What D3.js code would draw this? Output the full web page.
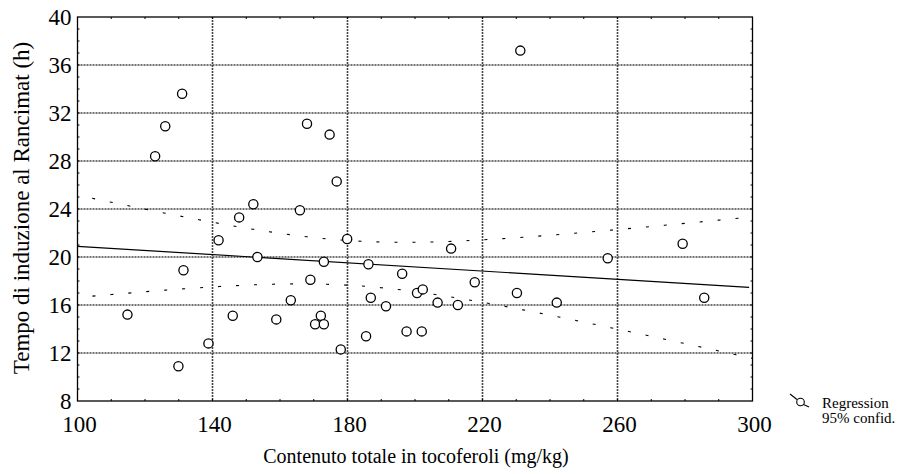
<!DOCTYPE html>
<html>
<head>
<meta charset="utf-8">
<script src="https://cdn.jsdelivr.net/npm/d3@7"></script>
<style>
  body { margin: 0; background: #fff; }
  svg { display: block; }
  text { font-family: "Liberation Serif", "Times New Roman", serif; fill: #000; }
</style>
</head>
<body>
<svg id="chart" width="897" height="474"></svg>
<script>
// ---- data ----
const tocoferoli = [114.8, 123, 126, 129.9, 131, 131.4, 138.8, 141.8, 146, 147.9,
  152.1, 153.3, 158.9, 163.2, 165.9, 168, 169, 170.4, 172.1, 173,
  173, 174.7, 176.8, 178, 179.9, 185.5, 186.2, 186.9, 191.4, 196.2,
  197.5, 200.6, 202, 202.3, 206.7, 210.7, 212.7, 217.7, 230.2, 231.2,
  242, 257.1, 279.3, 285.7];
const rancimat = [15.2, 28.4, 30.9, 10.9, 33.6, 18.9, 12.8, 21.4, 15.1, 23.3,
  24.4, 20.0, 14.8, 16.4, 23.9, 31.1, 18.1, 14.4, 15.1, 14.4,
  19.6, 30.2, 26.3, 12.3, 21.5, 13.4, 19.4, 16.6, 15.9, 18.6,
  13.8, 17.0, 13.8, 17.3, 16.2, 20.7, 16.0, 17.9, 17.0, 37.2,
  16.2, 19.9, 21.1, 16.6];
const xTicks = [100, 140, 180, 220, 260, 300];
const yTicks = [8, 12, 16, 20, 24, 28, 32, 36, 40];
const xTitle = "Contenuto totale in tocoferoli (mg/kg)";
const yTitle = "Tempo di induzione al Rancimat (h)";
const legendLabels = ["Regression", "95% confid."];

// ---- layout ----
const svg = d3.select("#chart");
const L = 77.5, R = 752.5, T = 17, B = 401;
const x = d3.scaleLinear().domain([100, 300]).range([L, R]);
const y = d3.scaleLinear().domain([8, 40]).range([B, T]);

// ---- grid ----
const grid = svg.append("g");
grid.selectAll("line.gx").data(xTicks.slice(1, -1)).join("line")
  .attr("x1", d => x(d)).attr("x2", d => x(d)).attr("y1", T).attr("y2", B)
  .attr("stroke", "#444").attr("stroke-width", 1.6).attr("stroke-dasharray", "2,1");
grid.selectAll("line.gy").data(yTicks.slice(1, -1)).join("line")
  .attr("y1", d => y(d)).attr("y2", d => y(d)).attr("x1", L).attr("x2", R)
  .attr("stroke", "#444").attr("stroke-width", 1.6).attr("stroke-dasharray", "2,1");

// ---- regression and 95% confidence bands (computed from the data) ----
const n = tocoferoli.length;
const mx = d3.mean(tocoferoli), my = d3.mean(rancimat);
let sxx = 0, sxy = 0;
for (let i = 0; i < n; i++) {
  sxx += (tocoferoli[i] - mx) ** 2;
  sxy += (tocoferoli[i] - mx) * (rancimat[i] - my);
}
const b1 = sxy / sxx, b0 = my - b1 * mx;
let sse = 0;
for (let i = 0; i < n; i++) sse += (rancimat[i] - (b0 + b1 * tocoferoli[i])) ** 2;
const s = Math.sqrt(sse / (n - 2));
const tcrit = 2.018; // t(0.975, 42)
const xs = d3.range(100, 300.01, 2);
const fit = xv => b0 + b1 * xv;
const half = xv => tcrit * s * Math.sqrt(1 / n + (xv - mx) ** 2 / sxx);

const lineGen = d3.line().x(d => x(d[0])).y(d => y(d[1]));
svg.append("path")
  .attr("d", lineGen([[100, fit(100)], [299, fit(299)]]))
  .attr("fill", "none").attr("stroke", "#000").attr("stroke-width", 1.2);
[1, -1].forEach(sg => {
  svg.append("path")
    .attr("d", lineGen(xs.map(v => [v, fit(v) + sg * half(v)])))
    .attr("fill", "none").attr("stroke", "#000").attr("stroke-width", 1.1)
    .attr("stroke-dasharray", "3,15").attr("stroke-dashoffset", -15);
});

// ---- axes frame ----
svg.append("rect").attr("x", L).attr("y", T).attr("width", R - L).attr("height", B - T)
  .attr("fill", "none").attr("stroke", "#000").attr("stroke-width", 1.3);

// minor ticks (inward)
const ticks = svg.append("g").attr("stroke", "#000").attr("stroke-width", 1);
d3.range(9, 40).forEach(v => {
  ticks.append("line").attr("x1", L).attr("x2", L + 2).attr("y1", y(v)).attr("y2", y(v));
  ticks.append("line").attr("x1", R).attr("x2", R - 2).attr("y1", y(v)).attr("y2", y(v));
});
d3.range(110, 300, 10).forEach(v => {
  ticks.append("line").attr("x1", x(v)).attr("x2", x(v)).attr("y1", B).attr("y2", B - 2);
  ticks.append("line").attr("x1", x(v)).attr("x2", x(v)).attr("y1", T).attr("y2", T + 2);
});

// ---- tick labels ----
svg.append("g").selectAll("text").data(yTicks).join("text")
  .attr("x", L - 6).attr("y", d => y(d)).attr("dy", "0.35em")
  .attr("text-anchor", "end").attr("font-size", 23).text(d => d);
svg.append("g").selectAll("text").data(xTicks).join("text")
  .attr("x", d => x(d) + 2).attr("y", B + 31)
  .attr("text-anchor", "middle").attr("font-size", 23).text(d => d);

// ---- titles ----
svg.append("text").attr("x", 416).attr("y", 463).attr("text-anchor", "middle")
  .attr("font-size", 20).text(xTitle);
svg.append("text").attr("transform", "translate(29,208) rotate(-90)")
  .attr("text-anchor", "middle").attr("font-size", 23).text(yTitle);

// ---- points ----
svg.append("g").selectAll("circle").data(d3.zip(tocoferoli, rancimat)).join("circle")
  .attr("cx", d => x(d[0])).attr("cy", d => y(d[1])).attr("r", 4.6)
  .attr("fill", "#fff").attr("stroke", "#000").attr("stroke-width", 1.3);

// ---- legend ----
const lg = svg.append("g");
lg.append("line").attr("x1", 790).attr("y1", 394).attr("x2", 797).attr("y2", 399.5)
  .attr("stroke", "#000").attr("stroke-width", 1.1);
lg.append("circle").attr("cx", 800.5).attr("cy", 402).attr("r", 3.8)
  .attr("fill", "#fff").attr("stroke", "#000").attr("stroke-width", 1.1);
lg.append("line").attr("x1", 803.5).attr("y1", 404.5).attr("x2", 809).attr("y2", 407)
  .attr("stroke", "#000").attr("stroke-width", 1.1);
lg.selectAll("text.l").data(legendLabels).join("text")
  .attr("x", 822).attr("y", (d, i) => 408 + i * 15)
  .attr("font-size", 15).text(d => d);
</script>
</body>
</html>
